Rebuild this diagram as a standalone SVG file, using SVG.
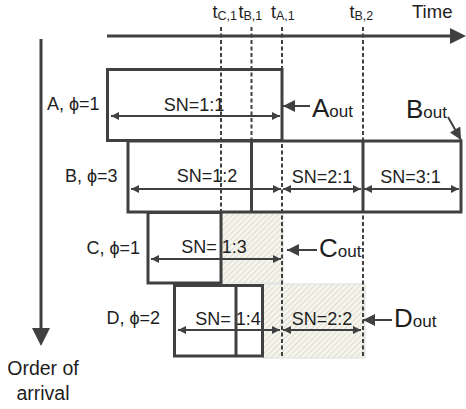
<svg xmlns="http://www.w3.org/2000/svg" width="466" height="409" viewBox="0 0 466 409">
<style>
text{font-family:"Liberation Sans","DejaVu Sans",sans-serif;fill:#1e1e1e}
.lbl{font-size:18px}
.sn{font-size:18px;text-anchor:middle}
.box{fill:none;stroke:#404040;stroke-width:3}
.dash{stroke:#404040;stroke-width:2;stroke-dasharray:4 2.5;fill:none}
.arr{stroke:#404040;stroke-width:2;fill:none;marker-start:url(#ah);marker-end:url(#ah)}
.out{stroke:#404040;stroke-width:2;fill:none;marker-end:url(#big)}
.hatch{fill:url(#hp);stroke:#dedede;stroke-width:1}
.tl{font-size:18px}
.ts{font-size:12.5px}
.big{font-size:26px}
.sub{font-size:17px}
</style>
<defs>
<marker id="ah" viewBox="0 0 10 10" refX="10" refY="5" markerUnits="userSpaceOnUse" markerWidth="8" markerHeight="10" orient="auto-start-reverse">
<path d="M0,0 L10,5 L0,10 z" fill="#404040"/>
</marker>
<marker id="big" viewBox="0 0 10 10" refX="10" refY="5" markerUnits="userSpaceOnUse" markerWidth="14" markerHeight="12" orient="auto">
<path d="M0,0 L10,5 L0,10 z" fill="#404040"/>
</marker>
<pattern id="hp" patternUnits="userSpaceOnUse" width="4" height="4" patternTransform="rotate(45)">
<rect width="4" height="4" fill="#f5f5ee"/>
<line x1="0" y1="0" x2="0" y2="4" stroke="#cdcdbb" stroke-width="1.2"/>
</pattern>
</defs>

<g id="time-axis">
<line x1="107" y1="36" x2="452" y2="36" stroke="#404040" stroke-width="3"/>
<polygon points="466,36 450,28 450,44" fill="#404040"/>
<text x="412" y="17.5" style="font-size:18.5px">Time</text>
</g>

<g id="order-axis">
<line x1="41" y1="39" x2="41" y2="330" stroke="#404040" stroke-width="3"/>
<polygon points="41,346 32,328 50,328" fill="#404040"/>
<text x="43" y="375" text-anchor="middle" style="font-size:19.5px">Order of</text>
<text x="43" y="400" text-anchor="middle" style="font-size:19.5px">arrival</text>
</g>

<g id="hatched">
<rect class="hatch" x="221" y="213" width="62" height="70"/>
<rect class="hatch" x="263" y="284" width="102" height="74"/>
</g>

<g id="time-marks">
<line class="dash" x1="221" y1="27" x2="221" y2="213"/>
<line class="dash" x1="251.5" y1="27" x2="251.5" y2="141"/>
<line class="dash" x1="282" y1="27" x2="282" y2="357"/>
<line class="dash" x1="363" y1="27" x2="363" y2="357"/>
<text class="tl" x="212.5" y="17.5">t<tspan class="ts" dy="2">C,1</tspan></text>
<text class="tl" x="238.5" y="17.5">t<tspan class="ts" dy="2">B,1</tspan></text>
<text class="tl" x="271" y="17.5">t<tspan class="ts" dy="2">A,1</tspan></text>
<text class="tl" x="349.5" y="17.5">t<tspan class="ts" dy="2">B,2</tspan></text>
</g>

<g id="nodeA">
<rect class="box" x="107.5" y="69.5" width="174.5" height="71"/>
<text class="lbl" x="99.5" y="110" text-anchor="end">A, ϕ=1</text>
<text class="sn" x="194" y="111">SN=1:1</text>
</g>

<g id="nodeB">
<rect class="box" x="128" y="141" width="333" height="71"/>
<line x1="251.5" y1="141" x2="251.5" y2="212" stroke="#404040" stroke-width="3"/>
<line x1="363" y1="141" x2="363" y2="212" stroke="#404040" stroke-width="3"/>
<text class="lbl" x="117.5" y="182" text-anchor="end">B, ϕ=3</text>
<text class="sn" x="207" y="182">SN=1:2</text>
<text class="sn" x="322" y="183">SN=2:1</text>
<text class="sn" x="410.5" y="183">SN=3:1</text>
</g>

<g id="nodeC">
<rect class="box" x="148" y="212.5" width="73" height="70.5"/>
<text class="lbl" x="140" y="254" text-anchor="end">C, ϕ=1</text>
<text class="sn" x="214" y="253">SN= 1:3</text>
</g>

<g id="nodeD">
<rect class="box" x="174.5" y="285.5" width="88" height="70.5"/>
<line x1="236" y1="285.5" x2="236" y2="356" stroke="#404040" stroke-width="3"/>
<text class="lbl" x="160" y="324" text-anchor="end">D, ϕ=2</text>
<text class="sn" x="228" y="325">SN= 1:4</text>
<text class="sn" x="322" y="325">SN=2:2</text>
</g>

<g id="outputs">
<text class="big" x="312" y="117">A<tspan class="sub">out</tspan></text>
<text class="big" x="406" y="118">B<tspan class="sub">out</tspan></text>
<text class="big" x="319" y="257">C<tspan class="sub">out</tspan></text>
<text class="big" x="394" y="327">D<tspan class="sub">out</tspan></text>
</g>

<g id="connectors">
<line class="arr" x1="111" y1="116" x2="280" y2="116"/>
<line class="arr" x1="131" y1="189" x2="281" y2="189"/>
<line class="arr" x1="283" y1="189" x2="361" y2="189"/>
<line class="arr" x1="364" y1="189" x2="459" y2="189"/>
<line class="arr" x1="151" y1="259" x2="281" y2="259"/>
<line class="arr" x1="178" y1="330" x2="280" y2="330"/>
<line class="arr" x1="283" y1="330" x2="361" y2="330"/>
<line class="out" x1="310" y1="106" x2="283" y2="106"/>
<line class="out" x1="317" y1="250" x2="287" y2="250"/>
<line class="out" x1="392" y1="320" x2="363" y2="320"/>
<line class="out" x1="448" y1="117" x2="461" y2="140"/>
</g>
</svg>
